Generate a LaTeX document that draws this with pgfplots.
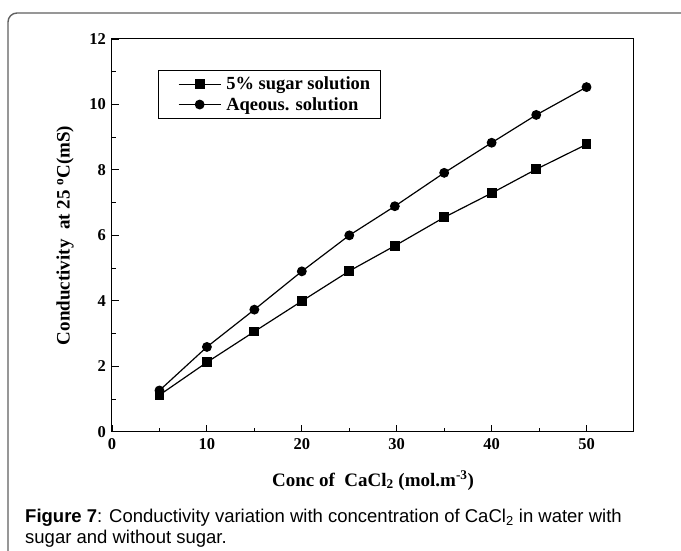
\documentclass[border=0pt]{standalone}
\usepackage{pgfplots}
\pgfplotsset{compat=1.18}
\usepackage{fontspec}
\setmainfont{Liberation Serif}
\newfontfamily\arial{Liberation Sans}
\begin{document}
\begin{tikzpicture}[x=1pt,y=1pt]
\useasboundingbox (0,0) rectangle (681,550);
\begin{scope}
\clip (0,0) rectangle (681,550);
\draw[gray!75!black, line width=1.4pt, rounded corners=9pt] (8,-30) rectangle (690,537);
\end{scope}
\begin{axis}[
  at={(112pt,118.3pt)}, anchor=south west,
  scale only axis, width=522pt, height=392.7pt,
  xmin=0, xmax=55, ymin=0, ymax=12,
  xtick={0,10,...,50}, ytick={0,2,...,12},
  minor x tick num=1, minor y tick num=1,
  tick align=inside, xtick pos=left, ytick pos=left,
  major tick length=7pt, minor tick length=4pt,
  every tick/.style={black, line width=0.9pt},
  axis line style={line width=1pt},
  /pgf/number format/assume math mode=true,
  ticklabel style={font=\bfseries\fontsize{16.5}{16.5}\selectfont},
  xticklabel shift=2.8pt, yticklabel shift=2.5pt,
  xlabel={Conc of\ \ CaCl\textsubscript{2} (mol.m\textsuperscript{-3})},
  ylabel={Conductivity\ \ at 25 \textsuperscript{o}C(mS)},
  label style={font=\bfseries\fontsize{19}{19}\selectfont},
  xlabel style={at={(axis description cs:0.5,-0.1383)}, anchor=base},
  ylabel style={at={(axis description cs:-0.09,0.5)}, anchor=center},
  legend style={at={(axis description cs:0.0875,0.859)}, anchor=west,
    draw=black, line width=0.8pt, font=\bfseries\fontsize{18.5}{18.5}\selectfont,
    inner xsep=8pt, inner ysep=4.5pt, row sep=2pt, column sep=3pt,
    nodes={inner sep=2pt}},
  legend cell align=left,
  legend image code/.code={\path (0pt,0pt); \draw[mark repeat=2,mark phase=2,#1] plot coordinates {(12pt,0pt) (33pt,0pt) (54pt,0pt)};},
]
\addplot[black, line width=1.2pt, mark=square*, mark size=4.3pt, mark options={solid}]
  coordinates {(5,1.12) (10,2.12) (15,3.06) (20,3.99) (25,4.91) (29.8,5.68) (35,6.55) (40,7.29) (44.7,8.02) (50,8.78)};
\addlegendentry{5\% sugar solution}
\addplot[black, line width=1.2pt, mark=*, mark size=4.3pt, mark options={solid}]
  coordinates {(5,1.26) (10,2.59) (15,3.73) (20,4.90) (25,6.00) (29.8,6.89) (35,7.91) (40,8.83) (44.7,9.68) (50,10.53)};
\addlegendentry{Aqeous. solution}
\end{axis}
\node[anchor=base west, inner sep=0pt, font=\arial\fontsize{18.5}{18.5}\selectfont] at (25,28) {\textbf{Figure 7}: Conductivity variation with concentration of CaCl\textsubscript{2} in water with};
\node[anchor=base west, inner sep=0pt, font=\arial\fontsize{18.5}{18.5}\selectfont] at (25,7) {sugar and without sugar.};
\end{tikzpicture}
\end{document}
